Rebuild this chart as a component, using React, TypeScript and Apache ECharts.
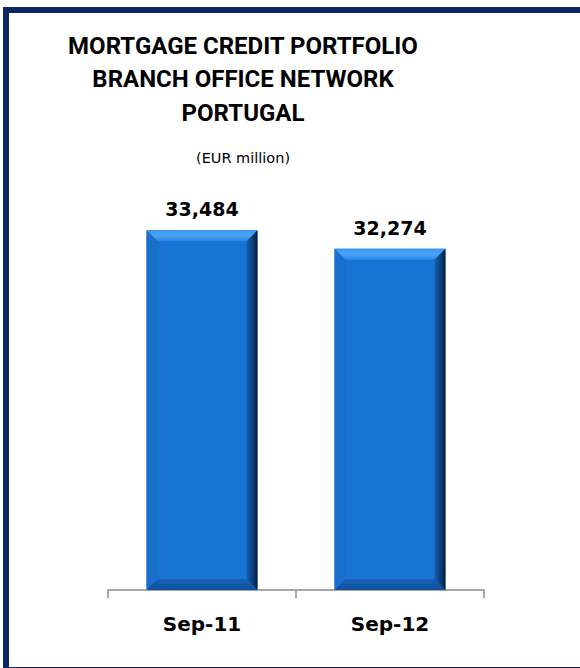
import React, { useEffect, useRef } from "react";
import * as echarts from "echarts";

const categories: string[] = ["Sep-11", "Sep-12"];
const values: number[] = [33484, 32274];
const titleLines: string[] = ["MORTGAGE CREDIT PORTFOLIO", "BRANCH OFFICE NETWORK", "PORTUGAL"];
const subtitle = "(EUR million)";

const fmt = (v: number) => v.toLocaleString("en-US");

export default function App() {
  const ref = useRef<HTMLDivElement>(null);
  useEffect(() => {
    document.body.style.margin = "0";
    const chart = echarts.init(ref.current!, undefined, { renderer: "svg" });
    const Y_MIN = 10000;
    const frame = { stroke: "#0c2762" };
    const option: any = {
      animation: false,
      backgroundColor: "#ffffff",
      grid: { left: 108, right: 96, top: 207, bottom: 78 },
      xAxis: {
        type: "category",
        data: categories,
        boundaryGap: true,
        axisLine: { show: true, lineStyle: { color: "#a6a6a6", width: 2 } },
        axisTick: { show: true, length: 8, lineStyle: { color: "#a6a6a6", width: 2 } },
        axisLabel: {
          margin: 24,
          color: "#000000",
          fontFamily: "DejaVu Sans",
          fontWeight: "bold",
          fontSize: 20,
        },
      },
      yAxis: { type: "value", min: Y_MIN, max: 35000, show: false, splitLine: { show: false } },
      graphic: [
        {
          type: "line",
          shape: { x1: 3, y1: 10, x2: 580, y2: 10 },
          style: { ...frame, lineWidth: 6 },
          silent: true,
        },
        {
          type: "line",
          shape: { x1: 6, y1: 7, x2: 6, y2: 668 },
          style: { ...frame, lineWidth: 6 },
          silent: true,
        },
        {
          type: "line",
          shape: { x1: 3, y1: 669, x2: 580, y2: 669 },
          style: { ...frame, lineWidth: 4 },
          silent: true,
        },
        {
          type: "text",
          x: 243,
          y: 29,
          style: {
            text: titleLines.join("\n"),
            fill: "#000000",
            font: "bold 24px Roboto",
            lineHeight: 33.5,
            textAlign: "center",
            textVerticalAlign: "top",
          },
        },
        {
          type: "text",
          x: 243,
          y: 158,
          style: {
            text: subtitle,
            fill: "#000000",
            font: "14.5px 'DejaVu Sans'",
            textAlign: "center",
            textVerticalAlign: "middle",
          },
        },
      ],
      series: [
        {
          type: "custom",
          encode: { x: 0, y: 1 },
          data: values.map((v, i) => [i, v]),
          renderItem: (params: any, api: any) => {
            const idx = api.value(0);
            const val = api.value(1);
            const top = api.coord([idx, val]);
            const base = api.coord([idx, Y_MIN]);
            const w = api.size([1, 0])[0] * 0.59;
            const x0 = top[0] - w / 2;
            const x1 = top[0] + w / 2;
            const y0 = top[1];
            const y1 = base[1];
            const b = 11;
            return {
              type: "group",
              children: [
                {
                  type: "rect",
                  shape: { x: x0, y: y0, width: w, height: y1 - y0 },
                  style: { fill: "#1874d4" },
                },
                {
                  type: "polygon",
                  shape: { points: [[x0, y0], [x1, y0], [x1 - b, y0 + b], [x0 + b, y0 + b]] },
                  style: {
                    fill: new echarts.graphic.LinearGradient(0, 0, 0, 1, [
                      { offset: 0, color: "#3d95ec" },
                      { offset: 0.5, color: "#4ba4f6" },
                      { offset: 1, color: "#2a86e2" },
                    ]),
                  },
                },
                {
                  type: "polygon",
                  shape: { points: [[x0, y0], [x0 + b, y0 + b], [x0 + b, y1 - b], [x0, y1]] },
                  style: { fill: "#1a6fcc" },
                },
                {
                  type: "polygon",
                  shape: { points: [[x0, y1], [x0 + b, y1 - b], [x1 - b, y1 - b], [x1, y1]] },
                  style: {
                    fill: new echarts.graphic.LinearGradient(0, 0, 0, 1, [
                      { offset: 0, color: "#1663bb" },
                      { offset: 1, color: "#0f4f98" },
                    ]),
                  },
                },
                {
                  type: "polygon",
                  shape: { points: [[x1, y0], [x1, y1], [x1 - b, y1 - b], [x1 - b, y0 + b]] },
                  style: {
                    fill: new echarts.graphic.LinearGradient(0, 0, 1, 0, [
                      { offset: 0, color: "#1560b5" },
                      { offset: 0.6, color: "#0c3b78" },
                      { offset: 1, color: "#051a38" },
                    ]),
                  },
                },
                {
                  type: "text",
                  style: {
                    text: fmt(val),
                    x: top[0],
                    y: y0 - 21,
                    fill: "#000000",
                    font: "bold 19px 'DejaVu Sans'",
                    align: "center",
                    verticalAlign: "middle",
                  },
                },
              ],
            };
          },
        },
      ],
    };
    chart.setOption(option);
    return () => chart.dispose();
  }, []);
  return <div ref={ref} style={{ width: 580, height: 668 }} />;
}
